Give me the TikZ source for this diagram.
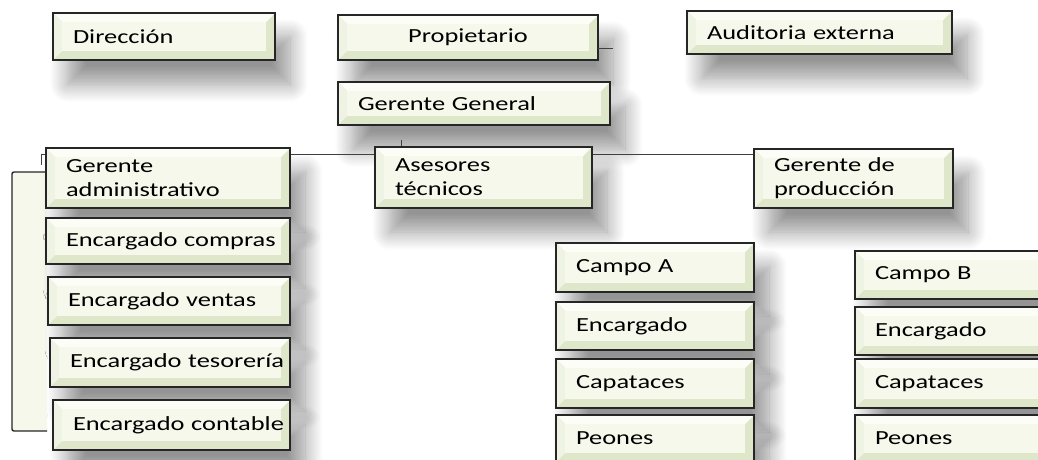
\documentclass[tikz,border=0pt]{standalone}
\usepackage{fontspec}
\setmainfont{Carlito}[FakeStretch=1.32]
\usepackage{tikz}
\usetikzlibrary{calc}
\usetikzlibrary{shadows.blur}
\definecolor{boxface}{HTML}{F5F8EA}
\definecolor{bevdark}{HTML}{DFE7CB}
\definecolor{bevlight}{HTML}{FCFDF7}
\tikzset{
  % bevelled face of every box
  bevel/.style={path picture={
    \coordinate (pa) at (path picture bounding box.north west);
    \coordinate (pb) at (path picture bounding box.north east);
    \coordinate (pc) at (path picture bounding box.south east);
    \coordinate (pd) at (path picture bounding box.south west);
    \fill[bevdark] (pa) rectangle (pc);
    \fill[bevlight] (pa) -- (pb) -- ($(pb)+(-9pt,-9pt)$) -- ($(pa)+(9pt,-9pt)$) -- cycle;
    \fill[bevlight!55!bevdark] (pa) -- ($(pa)+(9pt,-9pt)$) -- ($(pd)+(9pt,9pt)$) -- (pd) -- cycle;
    \fill[boxface] ($(pa)+(9pt,-9pt)$) rectangle ($(pc)+(-9pt,9pt)$);
  }},
  % width and height of a box, text starts 20pt in from the left side
  sz/.style 2 args={minimum width=#1pt, text width=#1pt-8pt, minimum height=#2pt}
}

\begin{document}
\begin{tikzpicture}[
    x=1pt, y=-1pt,
    box/.style={rectangle, draw=black!85, line width=1.4pt, fill=boxface, bevel,
               anchor=north west, inner xsep=4pt, inner ysep=0pt, outer sep=0pt,
               align=left, execute at begin node={\leftskip=16pt},
               font=\fontsize{20}{24}\selectfont,
               blur shadow={shadow xshift=15pt, shadow yshift=-24pt,
                            shadow blur radius=18pt, shadow blur steps=14,
                            shadow opacity=42}},
    conn/.style={draw=black!75, line width=0.9pt},
    bracket/.style={draw=black!85, line width=1.4pt, fill=boxface, rounded corners=2pt}
]
\useasboundingbox (0,0) rectangle (1038,460);
\clip (0,0) rectangle (1038,460);

% Top row
\node[box, sz={222}{47}] (dir) at (53,13) {Dirección};
\node[box, sz={260}{45}, execute at begin node={\centering}] (prop) at (338,15) {Propietario};
\node[box, sz={265}{43}] (aud) at (687,11) {Auditoria externa};
\node[box, sz={272}{43}] (gg) at (338,82) {Gerente General};

% Lines
\coordinate (propend) at (613,48);
\coordinate (ggtick) at (401,140);
\coordinate (busL) at (41,165);
\coordinate (busR) at (754,154);
\draw[conn] (prop.east |- propend) -- (propend);
\draw[conn] (ggtick) -- (ggtick |- busR);
\draw[conn] (busL) |- (busR);

% Bracket of the administration column
\draw[bracket] (47,172) -- (12,172) -- (12,431) -- (47,431);

% Administration
\node[box, sz={244}{60}] (gadm) at (46,148) {Gerente\\administrativo};
\node[box, sz={244}{46}] (ecomp) at (46,218) {Encargado compras};
\node[box, sz={242}{48}] (event) at (48,277) {Encargado ventas};
\node[box, sz={240}{49}] (etes) at (50,338) {Encargado tesorería};
\node[box, sz={237}{50}] (econt) at (53,400) {Encargado contable};

\node[box, sz={217}{61}] (ases) at (375,147) {Asesores\\técnicos};
\node[box, sz={199}{59}] (gprod) at (754,149) {Gerente de\\producción};

% Fields
\node[box, sz={198}{49}] (campoA) at (556,243) {Campo A};
\node[box, sz={198}{48}] (encA) at (556,302) {Encargado};
\node[box, sz={198}{49}] (capA) at (556,359) {Capataces};
\node[box, sz={198}{47}] (peoA) at (556,415) {Peones};

\node[box, sz={210}{48}] (campoB) at (855,251) {Campo B};
\node[box, sz={210}{48}] (encB) at (855,307) {Encargado};
\node[box, sz={210}{49}] (capB) at (855,359) {Capataces};
\node[box, sz={210}{47}] (peoB) at (855,415) {Peones};

\end{tikzpicture}
\end{document}
